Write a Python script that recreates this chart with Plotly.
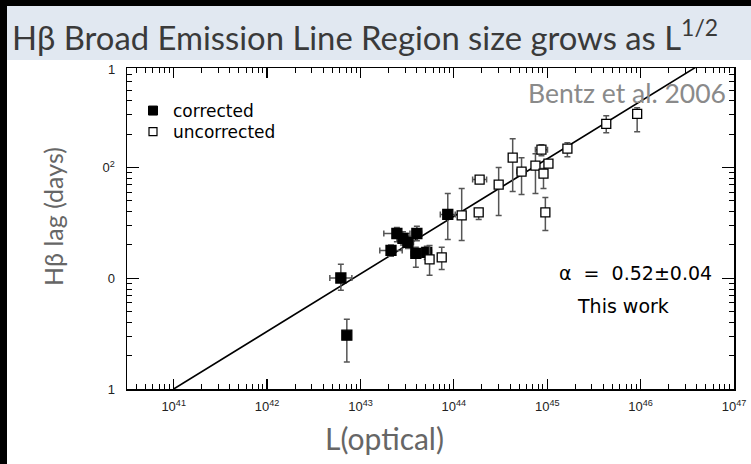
import numpy as np
import plotly.graph_objects as go

# ---------------- data (log10 units) ----------------
# corrected (filled squares)
corr_logL   = [42.79, 42.854, 43.327, 43.39, 43.455, 43.508, 43.604, 43.593, 43.71, 43.935]
corr_loglag = [1.003, 0.486, 1.252, 1.405, 1.36, 1.324, 1.405, 1.225, 1.234, 1.577]
corr_lag_hi = [1.126, 0.631, 1.30, 1.46, 1.42, 1.38, 1.47, 1.28, 1.29, 1.766]
corr_lag_lo = [0.892, 0.243, 1.20, 1.33, 1.30, 1.27, 1.34, 1.099, 1.17, 1.351]
corr_L_err  = [0.118, 0.0, 0.12, 0.14, 0.05, 0.06, 0.05, 0.05, 0.05, 0.08]

# uncorrected (open squares)
unc_logL   = [43.74, 43.87, 44.084, 44.266, 44.276, 44.48, 44.63, 44.725, 44.874, 44.938,
              45.013, 44.96, 44.98, 45.216, 45.632, 45.963]
unc_loglag = [1.171, 1.189, 1.568, 1.595, 1.892, 1.847, 2.09, 1.964, 2.018, 2.162,
              2.036, 1.946, 1.595, 2.171, 2.396, 2.486]
unc_lag_hi = [1.297, 1.28, 1.811, 1.62, 1.90, 2.0, 2.261, 2.09, 2.126, 2.207,
              2.06, 1.991, 1.73, 2.225, 2.468, 2.541]
unc_lag_lo = [1.027, 1.08, 1.342, 1.532, 1.88, 1.568, 1.784, 1.757, 1.766, 2.108,
              2.01, 1.811, 1.432, 2.099, 2.315, 2.324]
unc_L_err  = [0.0, 0.03, 0.0, 0.0, 0.075, 0.0, 0.0, 0.05, 0.0, 0.065,
              0.0, 0.04, 0.0, 0.0, 0.0, 0.0]

# fit: log(lag) = slope * (log L - 41)
fit_slope = 0.52
fit_logL = [41.0, 47.0]

x_tickvals = [41, 42, 43, 44, 45, 46, 47]
y_tickvals = [0, 1, 2]
y_ticktext = ["1", "0", "0<sup>2</sup>"]

W, H = 751, 464
ML, MR, MT, MB = 127, 17, 68, 75
PW, PH = W - ML - MR, H - MT - MB


def px(x):
    return (x - ML) / PW


def py(y):
    return (H - MB - y) / PH


def series(logL, loglag, hi, lo, lerr):
    logL = np.array(logL, dtype=float); loglag = np.array(loglag, dtype=float)
    hi = np.array(hi, dtype=float); lo = np.array(lo, dtype=float); lerr = np.array(lerr, dtype=float)
    x = 10.0 ** logL
    y = 10.0 ** loglag
    return dict(
        x=x, y=y,
        ey=10.0 ** hi - y, eym=y - 10.0 ** lo,
        ex=10.0 ** (logL + lerr) - x, exm=x - 10.0 ** (logL - lerr),
    )


c = series(corr_logL, corr_loglag, corr_lag_hi, corr_lag_lo, corr_L_err)
u = series(unc_logL, unc_loglag, unc_lag_hi, unc_lag_lo, unc_L_err)

ebar_col = "#555555"
fig = go.Figure()

fx = np.array(fit_logL, dtype=float)
fig.add_trace(go.Scatter(x=10.0 ** fx, y=10.0 ** (fit_slope * (fx - 41.0)), mode="lines",
                         line=dict(color="black", width=1.6), showlegend=False, hoverinfo="skip"))

for s, filled in ((c, True), (u, False)):
    fig.add_trace(go.Scatter(
        x=s["x"], y=s["y"], mode="markers", showlegend=False,
        marker=dict(symbol="square", size=10 if filled else 9,
                    color="black" if filled else "white",
                    line=dict(color="black", width=1.3)),
        error_y=dict(type="data", symmetric=False, array=s["ey"], arrayminus=s["eym"],
                     color=ebar_col, thickness=1.5, width=3),
        error_x=dict(type="data", symmetric=False, array=s["ex"], arrayminus=s["exm"],
                     color=ebar_col, thickness=1.5, width=3),
    ))

# legend-only entries (each in its own legend box to match spacing)
fig.add_trace(go.Scatter(x=[None], y=[None], mode="markers", name="corrected", legend="legend",
                         marker=dict(symbol="square", size=9, color="black",
                                     line=dict(color="black", width=1))))
fig.add_trace(go.Scatter(x=[None], y=[None], mode="markers", name="uncorrected", legend="legend2",
                         marker=dict(symbol="square", size=8, color="white",
                                     line=dict(color="black", width=1.2))))

axis_common = dict(
    type="log", showgrid=False, zeroline=False, showline=True, linecolor="black",
    linewidth=1.5, mirror="ticks", ticks="inside", tickcolor="black", tickwidth=1.2,
    tickfont=dict(family="Liberation Sans, Arial", size=13, color="#222"),
    minor=dict(ticks="inside", ticklen=5, tickcolor="black", tickwidth=1, dtick="D1", showgrid=False),
)

fig.update_xaxes(**axis_common, range=[40.5, 47], tickvals=[10.0 ** v for v in x_tickvals],
                 ticktext=["10<sup>%d</sup>" % v for v in x_tickvals], ticklen=10,
                 ticklabelstandoff=5)
fig.update_yaxes(**axis_common, range=[0, 2.9], tickvals=[10.0 ** v for v in y_tickvals],
                 ticktext=y_ticktext, ticklen=12, ticklabelstandoff=8)

slide_font = "Lato, Noto Sans, sans-serif"
idl_font = "DejaVu Sans"

shapes = [
    # black frame strips
    dict(type="rect", xref="paper", yref="paper", x0=px(0), x1=px(7), y0=py(464), y1=py(0),
         fillcolor="black", line_width=0, layer="above"),
    dict(type="rect", xref="paper", yref="paper", x0=px(0), x1=px(751), y0=py(6), y1=py(0),
         fillcolor="black", line_width=0, layer="above"),
    # title band
    dict(type="rect", xref="paper", yref="paper", x0=px(7), x1=px(751), y0=py(60), y1=py(6),
         fillcolor="#e1e8f1", line_width=0, layer="above"),
]

annotations = [
    dict(text="Hβ Broad Emission Line Region size grows as L<sup>1/2</sup>", x=px(10), y=py(35),
         xref="paper", yref="paper", xanchor="left", yanchor="middle", showarrow=False,
         font=dict(family=slide_font, size=32.8, color="#3a3a3a")),
    dict(text="Hβ lag (days)", x=px(53), y=py(217), xref="paper", yref="paper", textangle=-90,
         xanchor="center", yanchor="middle", showarrow=False,
         font=dict(family=slide_font, size=25, color="#666666")),
    dict(text="L(optical)", x=px(384), y=py(438), xref="paper", yref="paper",
         xanchor="center", yanchor="middle", showarrow=False,
         font=dict(family=slide_font, size=30, color="#666666")),
    dict(text="Bentz et al. 2006", x=px(627), y=py(93), xref="paper", yref="paper",
         xanchor="center", yanchor="middle", showarrow=False,
         font=dict(family=slide_font, size=26.5, color="#8a8a8a")),
    dict(text="α  =  0.52±0.04", x=px(635), y=py(273), xref="paper", yref="paper",
         xanchor="center", yanchor="middle", showarrow=False,
         font=dict(family=idl_font, size=19, color="black")),
    dict(text="This work", x=px(623), y=py(306), xref="paper", yref="paper",
         xanchor="center", yanchor="middle", showarrow=False,
         font=dict(family=idl_font, size=19, color="black")),
    dict(text="1", x=px(117), y=py(69), xref="paper", yref="paper",
         xanchor="right", yanchor="middle", showarrow=False,
         font=dict(family="Liberation Sans, Arial", size=13, color="#222")),
]

legend_common = dict(xanchor="left", yanchor="top", bgcolor="rgba(0,0,0,0)",
                     font=dict(family=idl_font, size=17, color="black"), itemwidth=30)

fig.update_layout(
    width=W, height=H, autosize=False, margin=dict(l=ML, r=MR, t=MT, b=MB, autoexpand=False),
    paper_bgcolor="white", plot_bgcolor="white",
    shapes=shapes, annotations=annotations,
    legend=dict(x=px(133), y=py(93), **legend_common),
    legend2=dict(x=px(133), y=py(114), **legend_common),
)

fig.write_html(
    "out.html",
    config={"displayModeBar": False, "staticPlot": True, "responsive": False},
    post_script=(
        "var st=document.createElement('style');"
        "st.textContent='html,body{margin:0;padding:0;overflow:hidden;scrollbar-width:none;}"
        "::-webkit-scrollbar{display:none;width:0;height:0;}';"
        "document.head.appendChild(st);"
    ),
)
